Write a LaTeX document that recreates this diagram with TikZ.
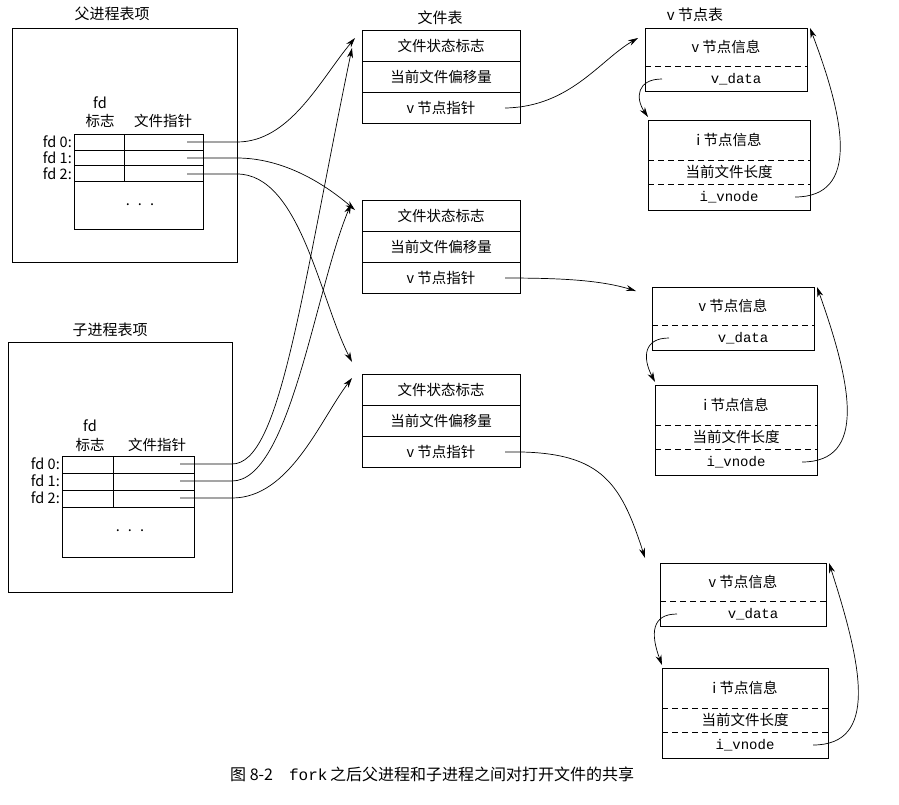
\documentclass[tikz,border=0pt]{standalone}
\usepackage{fontspec}
\setmainfont{Noto Sans CJK SC}
\setmonofont{Liberation Mono}
\usetikzlibrary{arrows.meta}
\begin{document}
\begin{tikzpicture}[x=1pt,y=-1pt,
  box/.style={draw,line width=0.7pt},
  dsh/.style={dashed,line width=0.7pt,dash pattern=on 6pt off 4pt},
  arr/.style={-{Stealth[length=10pt,width=6pt]},line width=0.7pt},
  lbl/.style={font=\fontsize{14.5}{14.5}\selectfont,inner sep=0pt},
  mono/.style={font=\ttfamily\fontsize{14}{14}\selectfont,inner sep=0pt}]
\useasboundingbox[fill=white] (0,0) rectangle (899,804);
% ---------- parent
\node[lbl,font=\fontsize{15}{15}\selectfont] (ptitle) at (112,14) {父进程表项};
\draw[box] (12,28) rectangle (237,262);
\draw[box] (74,134) rectangle (203,229);
\draw[box] (74,150) -- (203,150) (74,165) -- (203,165) (74,181) -- (203,181) (124,134) -- (124,181);
\node[lbl] (pfd) at (100,103) {fd};
\node[lbl] (pflag) at (100,121) {标志};
\node[lbl] (pptr) at (163,121) {文件指针};
\node[lbl,anchor=east] (p0) at (72,142) {fd 0:};
\node[lbl,anchor=east] (p1) at (72,158) {fd 1:};
\node[lbl,anchor=east] (p2) at (72,174) {fd 2:};
\node[lbl] (pdots) at (140,205) {.\hspace{8pt}.\hspace{8pt}.};
\coordinate (ps0) at (187,142); \coordinate (ps1) at (187,158); \coordinate (ps2) at (187,174);
% ---------- child
\node[lbl,font=\fontsize{15}{15}\selectfont] (ctitle) at (110,330) {子进程表项};
\draw[box] (8,342) rectangle (232,592);
\draw[box] (62,456) rectangle (194,557);
\draw[box] (62,473) -- (194,473) (62,490) -- (194,490) (62,507) -- (194,507) (113,456) -- (113,507);
\node[lbl] (cfd) at (90,426) {fd};
\node[lbl] (cflag) at (90,445) {标志};
\node[lbl] (cptr) at (157,445) {文件指针};
\node[lbl,anchor=east] (c0) at (60,464) {fd 0:};
\node[lbl,anchor=east] (c1) at (60,481) {fd 1:};
\node[lbl,anchor=east] (c2) at (60,498) {fd 2:};
\node[lbl] (cdots) at (130,531) {.\hspace{8pt}.\hspace{8pt}.};
\coordinate (cs0) at (180,464); \coordinate (cs1) at (180,481); \coordinate (cs2) at (180,498);
% ---------- file tables
\node[lbl,font=\fontsize{15}{15}\selectfont] (fttitle) at (440,18) {文件表};
\foreach \n/\y in {a/30,b/200,c/374}{
  \draw[box] (362,\y) rectangle (520,\y+93);
  \draw[box] (362,\y+31) -- (520,\y+31) (362,\y+62) -- (520,\y+62);
  \node[lbl] (\n1) at (441,\y+16) {文件状态标志};
  \node[lbl] (\n2) at (441,\y+47) {当前文件偏移量};
  \node[lbl] (\n3) at (441,\y+78) {v 节点指针};
  \coordinate (\n s) at (505,\y+78);
}
\coordinate (ta1) at (355,38); \coordinate (ta2) at (352,48);
\coordinate (tb1) at (355,210); \coordinate (tb2) at (351,204);
\coordinate (tc1) at (352,362); \coordinate (tc2) at (352,378);
\draw[arr] (ps0) -- (237,142) .. controls (290,142) and (320,80) .. (ta1);
\draw[arr] (ps1) -- (237,158) .. controls (280,158) and (320,180) .. (tb1);
\draw[arr] (ps2) -- (237,174) .. controls (300,174) and (320,300) .. (tc1);
\draw[arr] (cs0) -- (232,464) .. controls (280,464) and (300,300) .. (ta2);
\draw[arr] (cs1) -- (232,481) .. controls (290,481) and (315,290) .. (tb2);
\draw[arr] (cs2) -- (232,498) .. controls (290,498) and (320,420) .. (tc2);
% ---------- v-node tables
\node[lbl,font=\fontsize{15}{15}\selectfont] (vttitle) at (695,15) {v 节点表};
\foreach \n/\vx/\vy/\ix/\iy/\w in {a/645/28/648/120/162,b/652/287/655/385/162,c/660/563/662/668/166}{
  \draw[box] (\vx,\vy) rectangle (\vx+\w,\vy+63);
  \draw[dsh] (\vx,\vy+38) -- (\vx+\w,\vy+38);
  \node[lbl] (\n vi) at (\vx+\w/2,\vy+19) {v 节点信息};
  \node[mono] (\n vd) at (\vx+\w/2+10,\vy+51) {v\_data};
  \draw[box] (\ix,\iy) rectangle (\ix+\w,\iy+90);
  \draw[dsh] (\ix,\iy+40) -- (\ix+\w,\iy+40) (\ix,\iy+64) -- (\ix+\w,\iy+64);
  \node[lbl] (\n ii) at (\ix+\w/2,\iy+20) {i 节点信息};
  \node[lbl] (\n il) at (\ix+\w/2,\iy+52) {当前文件长度};
  \node[mono] (\n iv) at (\ix+\w/2,\iy+77) {i\_vnode};
  \coordinate (\n vds) at (\vx+17,\vy+51);
  \coordinate (\n ie) at (\ix,\iy-3);
  \coordinate (\n ivs) at (\ix+\w-15,\iy+77);
  \coordinate (\n vt) at (\vx+\w+3,\vy);
  \draw[arr] (\n vds) .. controls (\vx-8,\vy+51) and (\vx-10,\vy+70) .. (\n ie);
  \draw[arr] (\n ivs) .. controls (\ix+\w+50,\iy+77) and (\ix+\w+35,\iy) .. (\n vt);
}
\coordinate (va) at (638,38); \coordinate (vb) at (636,291); \coordinate (vc) at (645,558);
\draw[arr] (as) .. controls (570,107) and (600,60) .. (va);
\draw[arr] (bs) .. controls (560,278) and (600,280) .. (vb);
\draw[arr] (cs) .. controls (600,450) and (620,480) .. (vc);
% ---------- caption
\node[lbl,anchor=west,font=\fontsize{16}{16}\selectfont] (cap) at (230,774) {图 8-2\hspace{16pt}{\ttfamily fork}\,之后父进程和子进程之间对打开文件的共享};
\end{tikzpicture}
\end{document}
